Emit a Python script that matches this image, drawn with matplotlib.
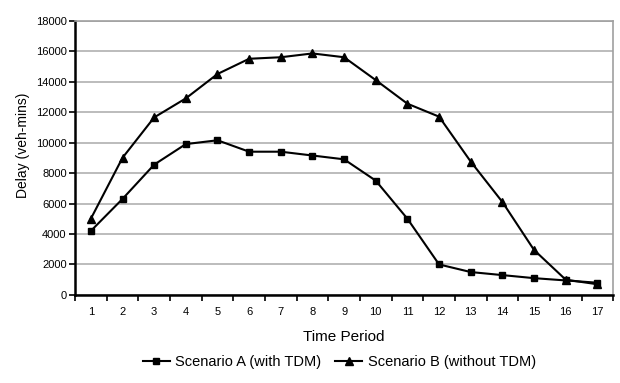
from matplotlib import pyplot as plt

# data
periods = list(range(1, 18))
scenario_a = [4200, 6300, 8550, 9900, 10150, 9400, 9400, 9150, 8900, 7500,
              5000, 2000, 1500, 1300, 1100, 950, 800]
scenario_b = [5000, 9000, 11650, 12900, 14500, 15500, 15600, 15850, 15600, 14100,
              12550, 11700, 8750, 6100, 2950, 1000, 700]
y_ticks = list(range(0, 18001, 2000))

plt.rcParams['font.family'] = ['Liberation Sans', 'DejaVu Sans']

fig = plt.figure(figsize=(6.2, 3.83), dpi=100)
ax = fig.add_axes([0.121, 0.230, 0.868, 0.716])

ax.plot(periods, scenario_a, color='black', lw=1.5, marker='s', ms=5,
        label='Scenario A (with TDM)')
ax.plot(periods, scenario_b, color='black', lw=1.5, marker='^', ms=6,
        label='Scenario B (without TDM)')

ax.set_xlim(0.5, 17.5)
ax.set_ylim(0, 18000)
ax.set_yticks(y_ticks)
ax.set_yticklabels([str(v) for v in y_ticks], fontsize=8)
ax.set_xticks(periods)
ax.set_xticklabels([str(p) for p in periods], fontsize=8)
# tick marks sit between categories, like the original
ax.set_xticks([p + 0.5 for p in range(0, 18)], minor=True)
ax.tick_params(axis='x', which='major', length=0, pad=9)
ax.tick_params(axis='x', which='minor', length=4, width=1.2, direction='out')
ax.tick_params(axis='y', length=4, width=1.2, direction='out', pad=2)

ax.grid(axis='y', color='#b0b0b0', lw=1.2)
ax.set_axisbelow(True)
for s in ['top', 'right']:
    ax.spines[s].set_color('#a0a0a0')
    ax.spines[s].set_linewidth(1.2)
for s in ['left', 'bottom']:
    ax.spines[s].set_color('black')
    ax.spines[s].set_linewidth(1.8)

fig.text(0.037, 0.62, 'Delay (veh-mins)', rotation=90, ha='center', va='center', fontsize=10)
fig.text(0.555, 0.12, 'Time Period', ha='center', va='center', fontsize=11)

leg = fig.legend(loc='center', bbox_to_anchor=(0.547, 0.055), ncol=2, frameon=False,
                 fontsize=10.5, handlelength=1.85, columnspacing=1.0, handletextpad=0.35,
                 markerscale=0.85)

plt.savefig('out.png', dpi=100)
